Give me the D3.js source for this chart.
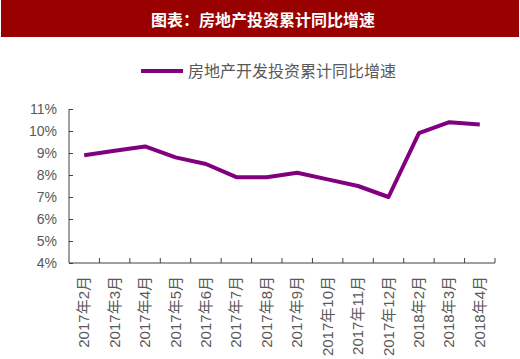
<!DOCTYPE html>
<html>
<head>
<meta charset="utf-8">
<script src="https://cdn.jsdelivr.net/npm/d3@7"></script>
<style>
  body { margin: 0; background: #fff; }
  svg { display: block; font-family: "Liberation Sans", Arial, "Noto Sans CJK SC", sans-serif; }
</style>
</head>
<body>
<script>
const title = "图表：房地产投资累计同比增速";
const seriesName = "房地产开发投资累计同比增速";
const months = ["2017年2月", "2017年3月", "2017年4月", "2017年5月", "2017年6月", "2017年7月", "2017年8月",
  "2017年9月", "2017年10月", "2017年11月", "2017年12月", "2018年2月", "2018年3月", "2018年4月"];
const growth = [8.9, 9.1, 9.3, 8.8, 8.5, 7.9, 7.9, 8.1, 7.8, 7.5, 7.0, 9.9, 10.4, 10.3];
const yTicks = [4, 5, 6, 7, 8, 9, 10, 11];

const W = 520, H = 359;
const margin = {top: 109, right: 25, bottom: 96, left: 69};
const width = W - margin.left - margin.right;
const height = H - margin.top - margin.bottom;

const svg = d3.select("body").append("svg")
  .attr("width", W)
  .attr("height", H);

// title bar
svg.append("rect")
  .attr("x", 1).attr("y", 0)
  .attr("width", 518).attr("height", 37)
  .attr("fill", "#990000");
svg.append("text")
  .attr("x", 263).attr("y", 26)
  .attr("text-anchor", "middle")
  .attr("fill", "#fff")
  .attr("font-size", 16)
  .attr("font-weight", "bold")
  .attr("font-family", "'Noto Sans CJK SC', sans-serif")
  .text(title);

// legend
svg.append("line")
  .attr("x1", 141).attr("x2", 183)
  .attr("y1", 71).attr("y2", 71)
  .attr("stroke", "#800080")
  .attr("stroke-width", 4);
svg.append("text")
  .attr("x", 188).attr("y", 77)
  .attr("fill", "#595959")
  .attr("font-size", 16)
  .attr("font-family", "'Noto Sans CJK SC', sans-serif")
  .text(seriesName);

const g = svg.append("g")
  .attr("transform", "translate(" + margin.left + "," + margin.top + ")");

let x = d3.scaleBand().domain(months).range([0, width]);
let y = d3.scaleLinear().domain([4, 11]).range([height, 0]);

// y axis
let yAxis = g.append("g")
  .call(d3.axisLeft(y).tickValues(yTicks).tickSize(-4).tickPadding(12)
    .tickFormat(function (d) { return d + "%"; }));
yAxis.select(".domain").attr("stroke", "#404040").attr("d", "M0,0V" + height);
yAxis.selectAll(".tick line").attr("stroke", "#404040");
yAxis.selectAll("text")
  .attr("fill", "#595959")
  .attr("font-size", 14);

// x axis
let xAxis = g.append("g")
  .attr("transform", "translate(0," + height + ")")
  .call(d3.axisBottom(x).tickSize(0).tickFormat(""));
xAxis.select(".domain").attr("stroke", "#404040").attr("d", "M0,0H" + width);
xAxis.selectAll(".tick").remove();

// ticks between categories, pointing up
g.append("g")
  .selectAll("line")
  .data(months)
  .join("line")
  .attr("x1", function (d) { return x(d) + x.step(); })
  .attr("x2", function (d) { return x(d) + x.step(); })
  .attr("y1", height)
  .attr("y2", height - 5)
  .attr("stroke", "#404040");

// rotated category labels
g.append("g")
  .selectAll("text")
  .data(months)
  .join("text")
  .attr("transform", function (d) {
    return "translate(" + (x(d) + x.bandwidth() / 2 + 5) + "," + (height + 13) + ") rotate(-90)";
  })
  .attr("text-anchor", "end")
  .attr("fill", "#595959")
  .attr("font-size", 15)
  .text(function (d) { return d; });

let valueLine = d3.line()
  .x(function (d, i) { return x(months[i]) + x.bandwidth() / 2; })
  .y(function (d) { return y(d); });

g.append("path")
  .datum(growth)
  .attr("fill", "none")
  .attr("stroke", "#800080")
  .attr("stroke-width", 4)
  .attr("stroke-linejoin", "round")
  .attr("d", valueLine);
</script>
</body>
</html>
